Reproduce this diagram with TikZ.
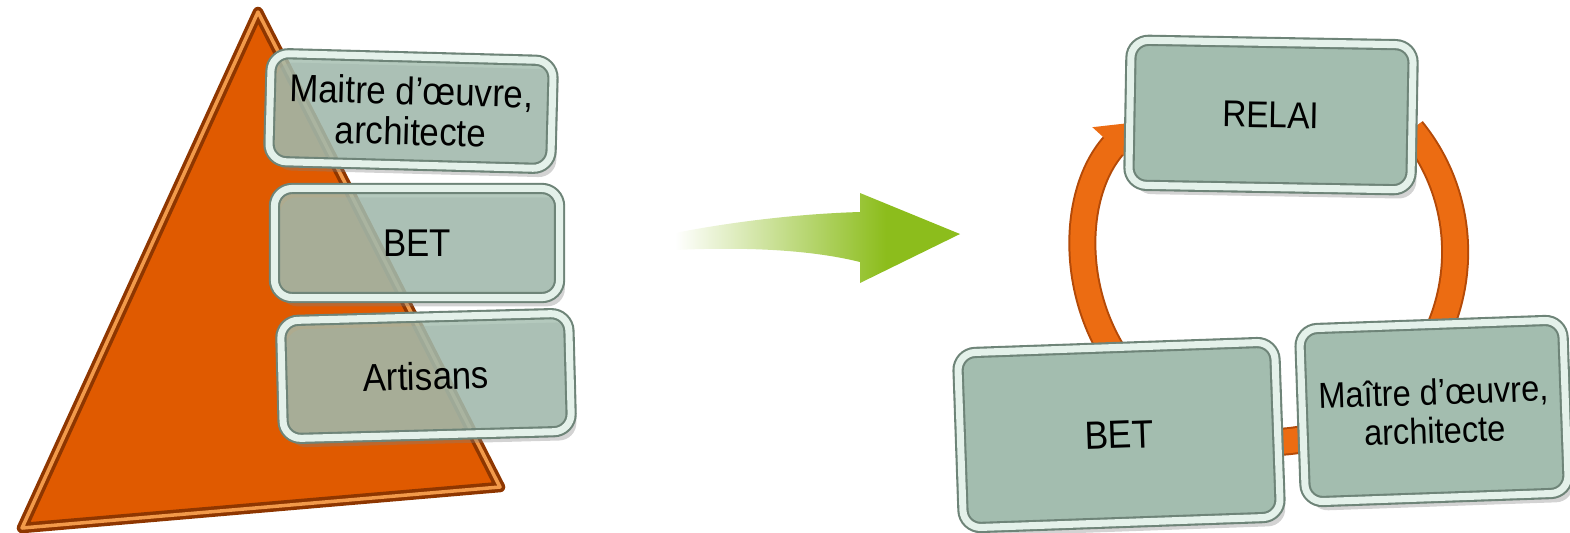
\documentclass[tikz,border=0pt]{standalone}
\usepackage{fontspec}
\setmainfont{Liberation Sans}[FakeStretch=0.9]
\usetikzlibrary{arrows.meta,shadows}

\definecolor{triorange}{HTML}{E05A00}
\definecolor{tridark}{HTML}{8E3600}
\definecolor{trilight}{HTML}{F29A4A}
\definecolor{cardfill}{HTML}{A3BDAF}
\definecolor{cardedge}{HTML}{6E8478}
\definecolor{cardrim}{HTML}{E4F1EA}
\definecolor{ringorange}{HTML}{EC6C12}
\definecolor{ringdark}{HTML}{B44A08}
\definecolor{arrowgreen}{HTML}{8CBD1C}

\pgfdeclarehorizontalshading{greenfade}{100bp}{color(0bp)=(white); color(25bp)=(white); color(62bp)=(arrowgreen); color(100bp)=(arrowgreen)}

\begin{document}
\begin{tikzpicture}[x=0.01cm, y=0.01cm,
    card/.style={rectangle, rounded corners=5pt, fill=cardfill, draw=cardedge, double=cardrim, double distance=2pt, line width=0.6pt, align=center, drop shadow={shadow xshift=1.5pt, shadow yshift=-2.5pt, opacity=0.35}},
    stack/.style={card, fill opacity=0.82, text opacity=1, font=\fontsize{11}{11.5}\selectfont},
    ring/.style={draw=ringorange, line width=0.24cm, -{Triangle[length=0.32cm, width=0.54cm]}, preaction={draw=ringdark, line width=0.28cm, arrows=-, shorten >=0.3cm}}]

\useasboundingbox (0,0) rectangle (1570,532);

% pyramide
\coordinate (top) at (258,520);
\coordinate (bl) at (22,4);
\coordinate (br) at (500,45);
\filldraw[fill=triorange, draw=tridark, double=trilight, double distance=1pt, line width=1pt, line join=round] (top) -- (br) -- (bl) -- cycle;

\node[stack, minimum width=2.82cm, minimum height=1.08cm, rotate=-1.5] (mo1) at (411,421) {Maitre d’œuvre,\\architecte};
\node[stack, minimum width=2.85cm, minimum height=1.09cm] (bet1) at (417,289) {BET};
\node[stack, minimum width=2.88cm, minimum height=1.18cm, rotate=1.5] (art) at (426,156) {Artisans};

% fleche verte
\shade[shading=greenfade] (675,282) .. controls (760,286) and (820,280) .. (860,270) -- (860,249) -- (960,298) -- (860,339) -- (860,320) .. controls (790,318) and (720,308) .. (675,299) -- cycle;

% cycle
\coordinate (ringc) at (1270,280);
\draw[ring] ([shift={(40:1.85cm and 1.9cm)}]ringc) arc[start angle=40, end angle=-223, x radius=1.85cm, y radius=1.9cm];

\node[card, minimum width=2.82cm, minimum height=1.45cm, rotate=-1, font=\fontsize{10.6}{12}\selectfont] (relai) at (1271,417) {RELAI};
\node[card, minimum width=3.17cm, minimum height=1.75cm, rotate=2, font=\fontsize{11.2}{13}\selectfont] (bet2) at (1119,97) {BET};
\node[card, minimum width=2.63cm, minimum height=1.73cm, rotate=2, font=\fontsize{10.3}{11}\selectfont] (moe) at (1434,121) {Maître d’œuvre,\\architecte};

\end{tikzpicture}
\end{document}
